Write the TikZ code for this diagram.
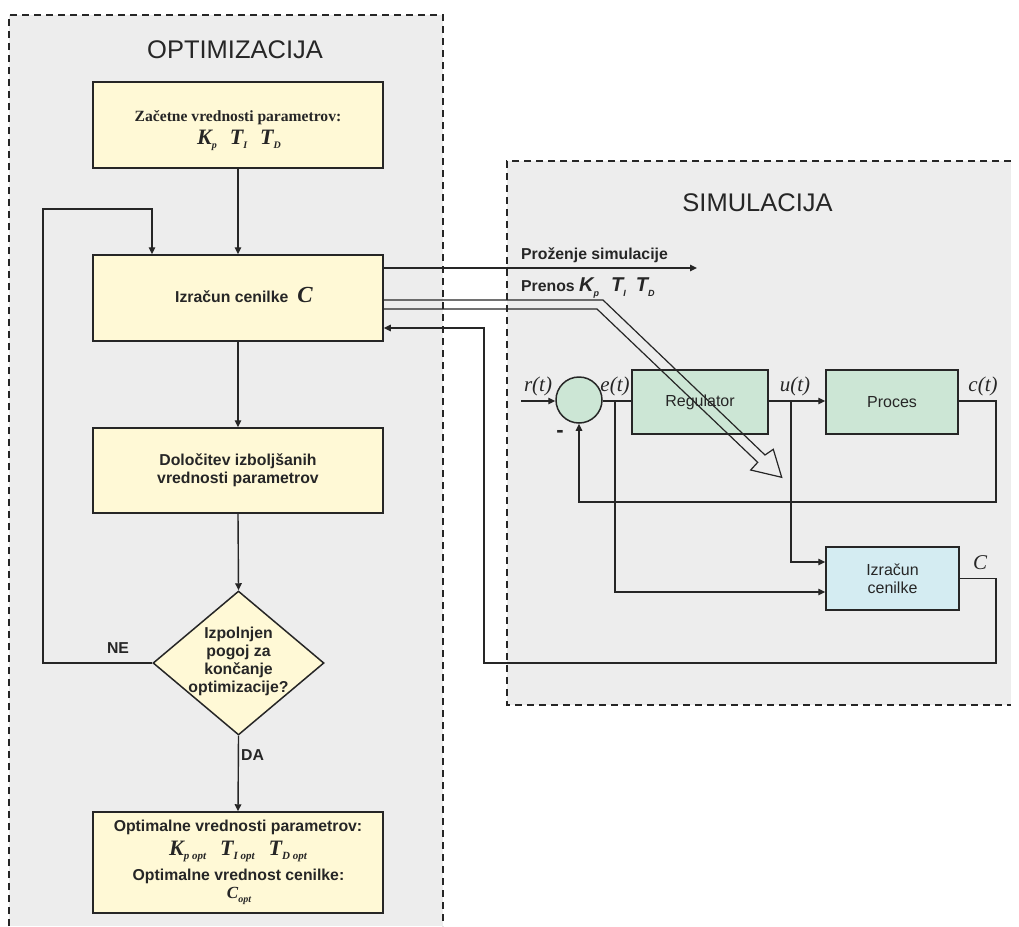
\documentclass[tikz,border=0pt]{standalone}
\usepackage{fontspec}
\setmainfont{Liberation Serif}
\setsansfont{Liberation Sans}
\usetikzlibrary{arrows.meta,shapes.geometric}
\definecolor{bg}{HTML}{EDEDED}
\definecolor{yel}{HTML}{FFF9D6}
\definecolor{grn}{HTML}{CCE6D5}
\definecolor{blu}{HTML}{D4ECF2}
\definecolor{ln}{HTML}{262626}
\newcommand\qsym[4]{{\fontsize{#1}{#1}\selectfont\bfseries\itshape #3}\raisebox{-4.5pt}{\fontsize{#2}{#2}\selectfont\bfseries\itshape #4}}
\tikzset{
  panel/.style={draw=ln, line width=1.3pt, dash pattern=on 7pt off 5pt},
  con/.style={draw=ln, line width=1.4pt},
  arr/.style={con, -{Triangle[length=7pt,width=6.5pt]}},
  ybox/.style={draw=ln, fill=yel, line width=1.5pt, minimum width=290pt, inner sep=0pt},
  gbox/.style={draw=ln, fill=grn, line width=1.5pt, inner sep=0pt, font=\sffamily\fontsize{16}{18}\selectfont},
  bbox/.style={draw=ln, fill=blu, line width=1.5pt, inner sep=0pt, align=center, font=\sffamily\fontsize{16}{18}\selectfont},
  sb/.style={inner sep=0pt, font=\sffamily\bfseries\fontsize{15.8}{18.2}\selectfont},
  sv/.style={inner sep=0pt, font=\fontsize{21}{21}\selectfont\itshape},
  ttl/.style={inner sep=0pt, anchor=base, font=\sffamily\fontsize{25.5}{28}\selectfont}
}
\begin{document}
\begin{tikzpicture}[x=1pt,y=-1pt,color=ln]
\useasboundingbox (0,0) rectangle (1019,926);
% panels
\fill[bg] (9,15) rectangle (443,926);
\draw[panel] (9,926) -- (9,15) -- (443,15) -- (443,926);
\fill[bg] (507,161) rectangle (1011,705);
\draw[panel] (1011,161) -- (507,161) -- (507,705) -- (1011,705);
\node[ttl] (topt) at (235,58.3) {OPTIMIZACIJA};
\node[ttl] (tsim) at (757.5,211) {SIMULACIJA};

% optimization flow
\node[ybox, minimum height=86pt] (b1) at (238,125) {};
\node[inner sep=0pt, anchor=base, font=\bfseries\fontsize{15.6}{18}\selectfont] (b1a) at (238,121.5) {Začetne vrednosti parametrov:};
\node[inner sep=0pt, anchor=base] (b1b) at (239,144) {\qsym{22}{10}{K}{p}\hspace{13pt}\qsym{22}{10}{T}{I}\hspace{13pt}\qsym{22}{10}{T}{D}};

\node[ybox, minimum height=86pt] (b2) at (238,298) {};
\node[sb, anchor=base] (b2t) at (244,302) {Izračun cenilke\hspace{9pt}{\rmfamily\fontsize{23}{23}\selectfont\bfseries\itshape C}};

\node[ybox, minimum height=85pt] (b3) at (238,470.5) {};
\node[sb, align=center] (b3t) at (238,470) {Določitev izboljšanih\\vrednosti parametrov};

\node[diamond, draw=ln, fill=yel, line width=1.5pt, minimum width=171pt, minimum height=144pt, inner sep=0pt, aspect=1.19] (dia) at (238.5,663) {};
\node[sb, align=center] (diat) at (238.5,661.4) {Izpolnjen\\pogoj za\\končanje\\optimizacije?};

\node[ybox, minimum height=101pt] (b4) at (238,862.5) {};
\node[sb, anchor=base] (b4a) at (238,831.7) {Optimalne vrednosti parametrov:};
\node[inner sep=0pt, anchor=base] (b4b) at (238,855) {\qsym{22}{11}{K}{p opt}\hspace{14pt}\qsym{22}{11}{T}{I opt}\hspace{14pt}\qsym{22}{11}{T}{D opt}};
\node[sb, anchor=base] (b4c) at (238.5,880) {Optimalne vrednost cenilke:};
\node[inner sep=0pt, anchor=base] (b4d) at (239,898) {\qsym{17}{10}{C}{opt}};

\draw[arr] (b1.south) -- (b2.north);
\draw[arr] (b2.south) -- (b3.north);
\draw[arr] (b3.south) -- (dia.north);
\draw[arr] (dia.south) -- (b4.north);
\draw[arr] (dia.west) -- (43,663) -- (43,209) -- (152,209) -- ([xshift=-86pt]b2.north);
\node[sb, anchor=base] (ne) at (118,653.3) {NE};
\node[sb, anchor=base west] (da) at (241,760) {DA};

% simulation
\node[circle, draw=ln, fill=grn, line width=1.5pt, minimum size=46pt, inner sep=0pt] (sum) at (579,400) {};
\node[gbox, minimum width=136pt, minimum height=64pt] (reg) at (700,402) {Regulator};
\node[gbox, minimum width=132pt, minimum height=64pt] (proc) at (892,402) {Proces};
\node[bbox, minimum width=133pt, minimum height=63pt] (cen) at (892.5,578.5) {Izračun\\cenilke};

\coordinate (rin) at (521,401);
\draw[arr] (rin) -- (sum.west |- rin);
\draw[con] (sum.east |- rin) -- (reg.west |- rin);
\draw[arr] (reg.east |- rin) -- (proc.west |- rin);
\draw[arr] (proc.east |- rin) -- (996,401) -- (996,502) -- (579,502) -- (sum.south);
\draw[arr] (615,401) -- (615,592) -- ([yshift=-13.5pt]cen.west);
\draw[arr] (791,401) -- (791,562) -- ([yshift=16.5pt]cen.west);
\draw[arr] (cen.east) -- (996,578.5) -- (996,663) -- (484,663) -- (484,328) -- ([yshift=-30pt]b2.east);

\node[sv, anchor=base] (lr) at (538,391) {r(t)};
\node[sv, anchor=base] (le) at (615,391) {e(t)};
\node[sv, anchor=base] (lu) at (795,391) {u(t)};
\node[sv, anchor=base] (lc) at (983,391) {c(t)};
\node[sv, anchor=base] (lC) at (980,569) {C};
\node[inner sep=0pt, font=\sffamily\bfseries\fontsize{22}{22}\selectfont] (minus) at (560,434) {-};

% links
\coordinate (pend) at (697,268);
\draw[arr] ([yshift=30pt]b2.east) -- (pend);
\node[sb, anchor=base west] (proz) at (521,259.3) {Proženje simulacije};
\node[sb, anchor=base west] (pren) at (521,291.5) {Prenos \qsym{20}{9}{K}{p}\hspace{12pt}\qsym{20}{9}{T}{I}\hspace{10pt}\qsym{20}{9}{T}{D}};
\draw[con, line width=1.2pt, line join=miter] ([yshift=-2pt]b2.east) -- (603,300) -- (765,455) -- (773.3,449.3) -- (781.7,477.3) -- (750.7,470) -- (757.7,462.3) -- (597,309) -- ([yshift=-11pt]b2.east);
\end{tikzpicture}
\end{document}
